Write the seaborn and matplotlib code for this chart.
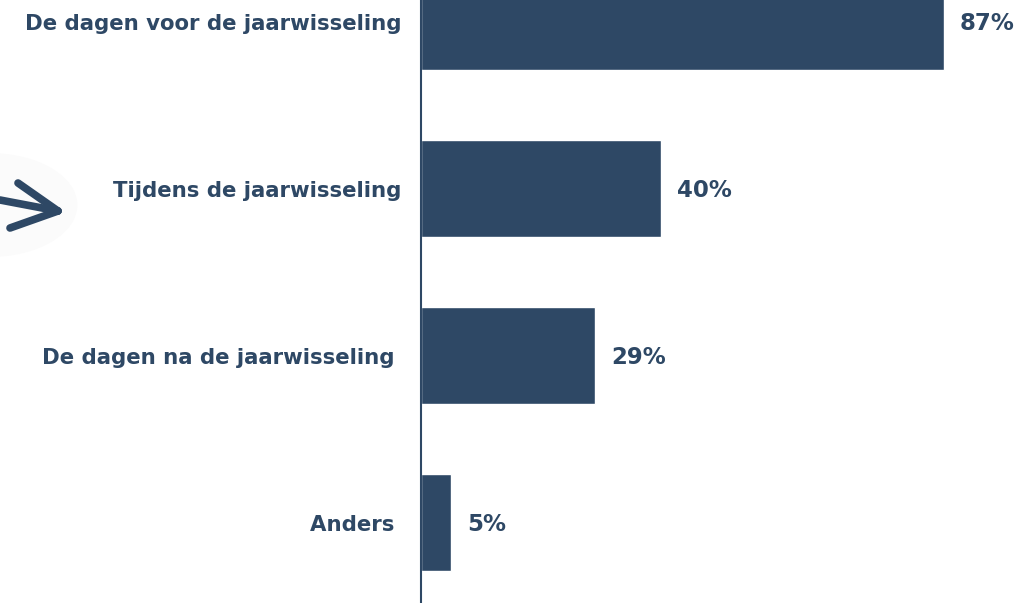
import matplotlib
matplotlib.use('Agg')
import matplotlib.pyplot as plt
import seaborn as sns
import pandas as pd

categories = ['De dagen voor de jaarwisseling', 'Tijdens de jaarwisseling',
              'De dagen na de jaarwisseling ', 'Anders ']
values = [87, 40, 29, 5]

kleur = '#2E4865'
sns.set_style('white')
plt.rcParams['font.family'] = ['DejaVu Sans']

df = pd.DataFrame({'cat': categories, 'pct': values})

fig = plt.figure(figsize=(10.22, 6.03), dpi=100)
ax = fig.add_axes([421/1022, 0, 601/1022, 1])
sns.barplot(data=df, x='pct', y='cat', orient='h', color=kleur, saturation=1,
            width=0.58, ax=ax)

ax.set_xlim(0, 100)
ax.set_ylim(3.482, -0.129)
ax.set_xlabel('')
ax.set_ylabel('')
ax.set_xticks([])
for s in ['top', 'right', 'bottom']:
    ax.spines[s].set_visible(False)
ax.spines['left'].set_color(kleur)
ax.spines['left'].set_linewidth(1.5)
ax.tick_params(axis='y', length=0, pad=14)
for lab in ax.get_yticklabels():
    lab.set_fontsize(15.3)
    lab.set_fontweight('bold')
    lab.set_color(kleur)

for i, v in enumerate(values):
    ax.annotate(f'{v}%', (v, i + 0.01), xytext=(16, 0), textcoords='offset pixels',
                va='center', ha='left', fontsize=16.5, fontweight='bold', color=kleur)

# hand-drawn arrow on the left, faint disc behind it
circ = plt.Circle((-0.01, 0.66), 0.085, transform=fig.transFigure, color='#fbfbfb', zorder=-5)
fig.patches.append(circ)
W, H = 1022, 603
def px(x, y):
    return x / W, 1 - y / H
for (x0, y0), (x1, y1) in [((0, 200), (58, 211)), ((18, 183), (58, 211)), ((10, 228), (58, 211))]:
    a, b = px(x0, y0)
    c, d = px(x1, y1)
    fig.add_artist(plt.Line2D([a, c], [b, d], transform=fig.transFigure,
                              color=kleur, lw=5.5, solid_capstyle='round'))

fig.savefig('out.png', dpi=100)
